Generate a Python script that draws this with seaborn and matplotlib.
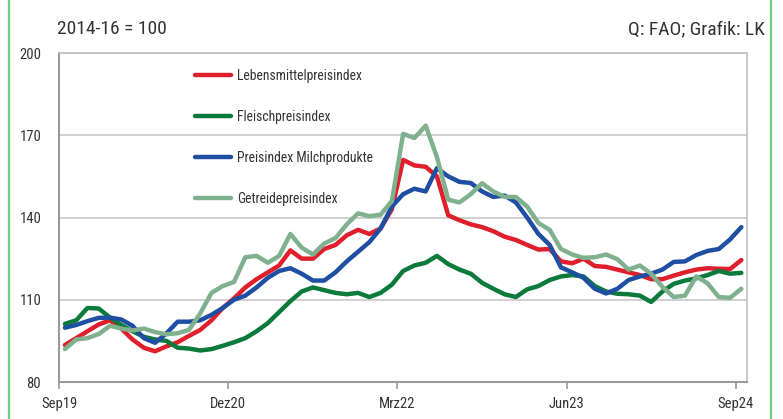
import numpy as np
import pandas as pd
import seaborn as sns
import matplotlib.pyplot as plt
from matplotlib.lines import Line2D

# monatliche Indexwerte Sep19 .. Sep24 (2014-16 = 100)
lebensmittel = [93.5, 96.0, 98.5, 101.0, 102.5, 99.5, 95.5, 92.5, 91.2, 93.0,
                94.5, 96.8, 99.0, 102.5, 107.0, 110.5, 114.5, 117.5, 120.0, 122.5,
                128.0, 125.0, 125.0, 128.5, 130.0, 133.5, 135.5, 134.0, 136.0, 143.0,
                161.0, 159.0, 158.5, 155.0, 140.8, 139.0, 137.5, 136.5, 135.0, 133.0,
                131.8, 130.0, 128.3, 128.5, 124.0, 123.3, 125.0, 122.3, 122.0, 121.0,
                120.0, 119.0, 117.5, 117.5, 118.8, 120.0, 121.0, 121.5, 121.3, 121.2, 124.5]
fleisch = [101.2, 102.5, 107.0, 106.8, 103.5, 100.8, 98.5, 96.5, 95.5, 95.0,
           92.5, 92.2, 91.5, 92.0, 93.2, 94.5, 96.0, 98.5, 101.5, 105.5,
           109.5, 113.0, 114.5, 113.5, 112.5, 112.0, 112.5, 111.0, 112.5, 115.5,
           120.5, 122.5, 123.5, 126.0, 123.0, 121.0, 119.5, 116.2, 114.0, 112.0,
           111.0, 113.8, 115.0, 117.2, 118.5, 119.0, 118.5, 115.0, 113.0, 112.2,
           112.0, 111.5, 109.2, 113.0, 115.8, 117.0, 117.8, 119.0, 120.5, 119.5, 119.8]
milch = [99.8, 100.8, 102.2, 103.4, 103.5, 102.8, 100.5, 96.0, 94.3, 97.7,
         102.0, 102.0, 102.5, 104.5, 107.0, 110.0, 111.5, 114.5, 118.0, 120.5,
         121.5, 119.5, 117.0, 117.0, 120.0, 124.0, 127.5, 131.0, 136.0, 144.0,
         148.5, 150.5, 149.5, 158.0, 155.0, 153.0, 152.6, 149.5, 147.5, 148.0,
         145.5, 140.0, 134.0, 130.0, 121.8, 120.0, 118.0, 114.0, 112.3, 114.0,
         117.2, 118.5, 119.5, 121.0, 123.8, 124.0, 126.3, 127.8, 128.5, 132.0, 136.5]
getreide = [92.0, 95.5, 96.0, 97.5, 100.5, 99.5, 98.8, 99.5, 98.2, 97.4,
            97.8, 99.0, 105.0, 112.5, 115.0, 116.5, 125.5, 126.0, 123.5, 126.0,
            134.0, 129.0, 126.5, 130.5, 132.5, 137.5, 141.5, 140.5, 141.0, 146.0,
            170.5, 169.0, 173.5, 162.0, 146.5, 145.5, 148.5, 152.5, 149.5, 147.5,
            147.5, 144.0, 138.0, 135.5, 128.5, 126.5, 125.3, 125.5, 126.5, 124.8,
            121.0, 122.5, 119.5, 114.7, 111.0, 111.5, 118.5, 116.0, 111.0, 110.7, 114.0]

serien = ["Lebensmittelpreisindex", "Fleischpreisindex",
          "Preisindex Milchprodukte", "Getreidepreisindex"]
farben = ["#e01f2d", "#0b7a3b", "#1f4fa3", "#80b18f"]
tick_labels = ["Sep19", "Dez20", "Mrz22", "Jun23", "Sep24"]

df = pd.concat([
    pd.DataFrame({"monat": np.arange(len(werte)), "wert": werte, "index": name})
    for name, werte in zip(serien, [lebensmittel, fleisch, milch, getreide])
])

sns.set_style("white")
# schmale Schrift, falls vorhanden
plt.rcParams['font.family'] = ['Liberation Sans Narrow', 'Roboto Condensed',
                               'DejaVu Sans Condensed', 'Roboto', 'DejaVu Sans']

fig = plt.figure(figsize=(7.83, 4.19), dpi=100)
ax = fig.add_axes([0.0757, 0.0883, 0.8783, 0.7852])

sns.lineplot(data=df, x="monat", y="wert", hue="index", hue_order=serien,
             palette=farben, linewidth=3.2, ax=ax,
             solid_capstyle="round", solid_joinstyle="round")

ax.set_xlim(-0.5, 60.5)
ax.set_ylim(80, 200)
ax.set_yticks([80, 110, 140, 170, 200])
ax.set_xticks([-0.5, 14.5, 29.5, 44.5, 59.5])
ax.set_xticklabels(tick_labels)
ax.set_xlabel("")
ax.set_ylabel("")
ax.grid(axis="y", color="#c8c8c8", linewidth=1.2)
ax.set_axisbelow(True)

for side in ["left", "bottom"]:
    ax.spines[side].set_color("#9a9a9a")
    ax.spines[side].set_linewidth(1.5)
for side in ["top", "right"]:
    ax.spines[side].set_color("#c0c0c0")
    ax.spines[side].set_linewidth(1.2)

ax.tick_params(axis="y", length=0, pad=13, labelsize=10.5, labelcolor="#333333")
ax.tick_params(axis="x", bottom=True, length=5, width=1.2, color="#9a9a9a",
               pad=6, labelsize=10.5, labelcolor="#333333")

ax.legend(loc="upper left", bbox_to_anchor=(0.18, 0.99), frameon=False,
          fontsize=9.8, handlelength=2.6, handletextpad=0.45, labelspacing=2.0,
          labelcolor="#333333")

fig.text(0.073, 0.93, "2014-16 = 100", fontsize=14, color="#333333", va="center")
fig.text(0.977, 0.93, "Q: FAO; Grafik: LK", fontsize=14, color="#333333",
         va="center", ha="right")

# gruene Randlinien links und rechts
fig.add_artist(Line2D([0.011, 0.011], [0, 1], color="#6ccf7c", linewidth=1.6))
fig.add_artist(Line2D([0.985, 0.985], [0, 1], color="#6ccf7c", linewidth=1.6))

fig.savefig("out.png", dpi=100)
